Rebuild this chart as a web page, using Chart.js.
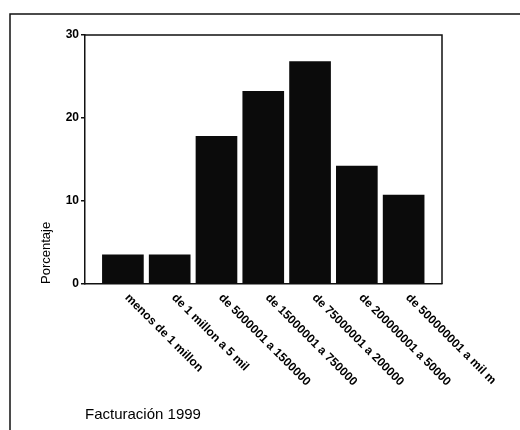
<!DOCTYPE html>
<html>
<head>
<meta charset="utf-8">
<script src="https://cdn.jsdelivr.net/npm/chart.js@4/dist/chart.umd.min.js"></script>
<style>
  html, body { margin: 0; padding: 0; background: #fff; }
  #wrap { width: 520px; height: 430px; }
</style>
</head>
<body>
<div id="wrap"><canvas id="barChart" width="520" height="430"></canvas></div>
<script>
const categorias = [
  'menos de 1 millon',
  'de 1 millon a 5 mil',
  'de 5000001 a 1500000',
  'de 15000001 a 750000',
  'de 75000001 a 200000',
  'de 200000001 a 50000',
  'de 500000001 a mil m'
]
const porcentajes = [3.5, 3.5, 17.8, 23.2, 26.8, 14.2, 10.7]
const yTicks = [0, 10, 20, 30]
const tituloX = 'Facturación 1999'
const tituloY = 'Porcentaje'

const FONT = "'Liberation Sans', Arial, sans-serif"

// frame around the plot area + outer border of the page
const framePlugin = {
  id: 'frame',
  afterDraw(chart) {
    const { ctx, chartArea: a } = chart
    ctx.save()
    ctx.strokeStyle = '#111'
    ctx.lineWidth = 1.5
    ctx.beginPath()
    ctx.moveTo(a.left, a.top)
    ctx.lineTo(a.right, a.top)
    ctx.lineTo(a.right, a.bottom)
    ctx.stroke()

    ctx.beginPath()
    ctx.moveTo(10, chart.height)
    ctx.lineTo(10, 14)
    ctx.lineTo(chart.width, 14)
    ctx.stroke()
    ctx.restore()
  }
}

// category labels slanting down to the right from each tick
const slantLabels = {
  id: 'slantLabels',
  afterDraw(chart) {
    const { ctx, chartArea: a } = chart
    const x = chart.scales.x
    ctx.save()
    ctx.fillStyle = '#000'
    ctx.font = 'bold 12px ' + FONT
    ctx.textAlign = 'left'
    ctx.textBaseline = 'middle'
    categorias.forEach((c, i) => {
      ctx.save()
      ctx.translate(x.getPixelForValue(i) + 4, a.bottom + 12)
      ctx.rotate(Math.PI / 4)
      ctx.fillText(c, 0, 0)
      ctx.restore()
    })
    ctx.restore()
  }
}

const ctx = document.getElementById('barChart').getContext('2d')
new Chart(ctx, {
  type: 'bar',
  data: {
    datasets: [{
      label: tituloY,
      data: categorias.map((c, i) => ({ x: i, y: porcentajes[i] })),
      backgroundColor: '#0b0b0b',
      borderWidth: 0,
      barThickness: 41
    }]
  },
  options: {
    responsive: false,
    animation: false,
    layout: { padding: { left: 0, top: 35, right: 78, bottom: 0 } },
    plugins: {
      legend: { display: false },
      tooltip: { enabled: false }
    },
    scales: {
      x: {
        type: 'linear',
        offset: false,
        bounds: 'data',
        min: -0.81,
        max: 6.82,
        ticks: { display: false, stepSize: 1 },
        afterBuildTicks: s => { s.ticks = s.ticks.filter(t => Number.isInteger(t.value)) },
        afterFit: s => { s.height = 146 },
        grid: { offset: false, drawOnChartArea: false, drawTicks: true, tickLength: 4, color: '#111', lineWidth: 1.5 },
        border: { display: true, color: '#111', width: 1.5 },
        title: {
          display: true,
          text: tituloX,
          align: 'start',
          color: '#000',
          font: { family: FONT, size: 15 },
          padding: { top: 0, bottom: 6 }
        }
      },
      y: {
        min: 0,
        max: 30,
        afterBuildTicks: s => { s.ticks = yTicks.map(v => ({ value: v })) },
        afterFit: s => { s.width = 85 },
        ticks: {
          color: '#000',
          padding: 2,
          font: { family: FONT, size: 12, weight: 'bold' }
        },
        grid: { drawOnChartArea: false, drawTicks: true, tickLength: 4, color: '#111', lineWidth: 1.5 },
        border: { display: true, color: '#111', width: 1.5 },
        title: {
          display: true,
          text: tituloY,
          align: 'start',
          color: '#000',
          font: { family: FONT, size: 13 },
          padding: { top: 39, bottom: 0 }
        }
      }
    }
  },
  plugins: [framePlugin, slantLabels]
})
</script>
</body>
</html>
